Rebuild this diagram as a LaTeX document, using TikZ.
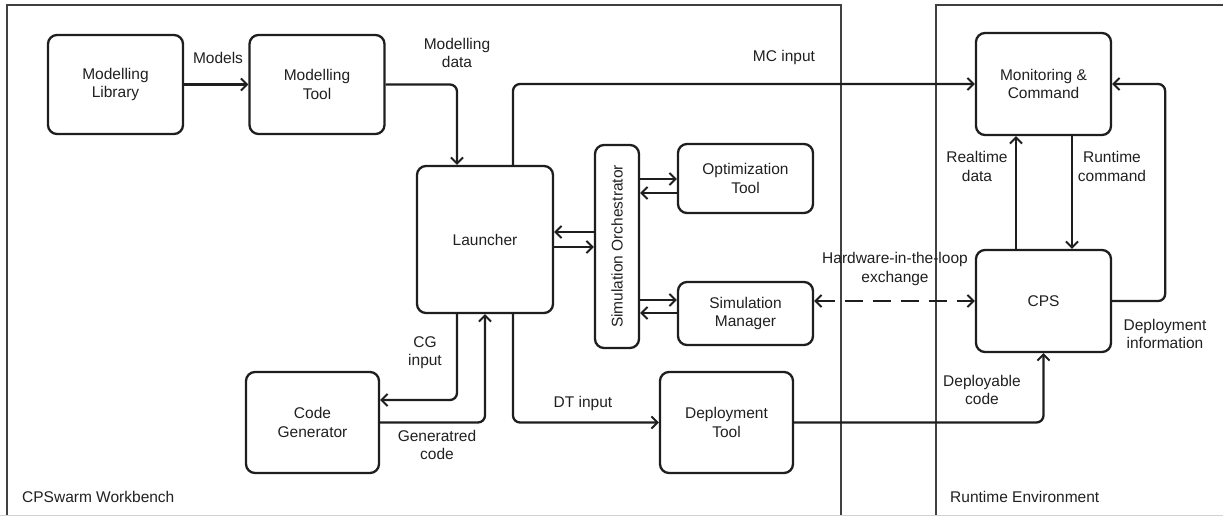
\documentclass[tikz,border=0pt]{standalone}
\usepackage{fontspec}
\setmainfont{Liberation Sans}
\usepackage{graphicx}
\usetikzlibrary{arrows.meta}
\definecolor{linec}{HTML}{1E1E1E}
\definecolor{framec}{HTML}{404040}
\definecolor{textc}{HTML}{202020}
\newcommand{\lblfont}{\fontsize{15.5}{18.5}\selectfont}
\begin{document}
\begin{tikzpicture}[x=1pt,y=-1pt,
 box/.style={draw=linec, line width=2.3pt, rounded corners=9pt, align=center, font=\lblfont, text=textc, inner sep=0pt},
 conn/.style={line width=2.3pt, draw=linec, rounded corners=7pt, -{Straight Barb[length=6pt,width=12pt,line width=2pt]}},
 lab/.style={font=\lblfont, text=textc, align=center, inner sep=0pt},
 frame/.style={draw=framec, line width=2.2pt}]
\useasboundingbox (0,0) rectangle (1223,516);
\clip (0,0) rectangle (1223,516);
% frames
\draw[frame] (7,530) -- (7,5) -- (841,5) -- (841,530);
\draw[frame] (936,530) -- (936,5) -- (1240,5);
\draw[gray!35, line width=1.5pt] (0,515.5) -- (1223,515.5);
\node[lab, anchor=west] (wb) at (22,497) {CPSwarm Workbench};
\node[lab, anchor=west] (re) at (950,497) {Runtime Environment};
% boxes
\node[box, minimum width=135pt, minimum height=99pt] (ml) at (115.5,84.5) {Modelling\\Library};
\node[box, minimum width=135pt, minimum height=99pt] (mt) at (317,84.5) {Modelling\\Tool};
\node[box, minimum width=136pt, minimum height=147pt] (la) at (485,239.5) {Launcher};
\node[box, minimum width=44pt, minimum height=203pt] (so) at (617,246.5) {\rotatebox{90}{Simulation Orchestrator}};
\node[box, minimum width=135pt, minimum height=69pt] (ot) at (745.5,178.5) {Optimization\\Tool};
\node[box, minimum width=135pt, minimum height=63pt] (sm) at (745.5,313.5) {Simulation\\Manager};
\node[box, minimum width=133pt, minimum height=101pt] (cg) at (312.5,422.5) {Code\\Generator};
\node[box, minimum width=133pt, minimum height=101pt] (dt) at (726.5,422.5) {Deployment\\Tool};
\node[box, minimum width=135pt, minimum height=102pt] (mc) at (1043.5,84) {Monitoring \&\\Command};
\node[box, minimum width=135pt, minimum height=102pt] (cps) at (1043.5,301) {CPS};
% connectors
\draw[conn] (ml) -- (mt);
\draw[conn] (mt.east) -| ([xshift=-28pt]la.north);
\draw[conn] ([xshift=28pt]la.north) |- (mc.west);
\draw[conn] (so.west |- 0,232) -- (la.east |- 0,232);
\draw[conn] (la.east |- 0,247) -- (so.west |- 0,247);
\draw[conn] (so.east |- 0,179) -- (ot.west |- 0,179);
\draw[conn] (ot.west |- 0,193) -- (so.east |- 0,193);
\draw[conn] (so.east |- 0,300) -- (sm.west |- 0,300);
\draw[conn] (sm.west |- 0,313) -- (so.east |- 0,313);
\draw[conn] ([xshift=-28pt]la.south) |- (cg.east |- 0,400);
\draw[conn] (cg.east) -| (la.south);
\draw[conn] ([xshift=28pt]la.south) |- (dt.west);
\draw[conn] (dt.east) -| (cps.south);
\draw[conn] ([xshift=-27.5pt]cps.north) -- ([xshift=-27.5pt]mc.south);
\draw[conn] ([xshift=28.5pt]mc.south) -- ([xshift=28.5pt]cps.north);
\draw[conn] (cps.east) -- ++(53,0) |- (mc.east);
\draw[conn, {Straight Barb[length=6pt,width=12pt,line width=2pt]}-{Straight Barb[length=6pt,width=12pt,line width=2pt]}, dash pattern=on 18pt off 10pt] (sm.east |- cps.west) -- (cps.west);
% labels
\node[lab] (l1) at (218,58) {Models};
\node[lab] (l2) at (457,53) {Modelling\\data};
\node[lab] (l3) at (784,57) {MC input};
\node[lab] (l4) at (977,166.5) {Realtime\\data};
\node[lab] (l5) at (1112,166.5) {Runtime\\command};
\node[lab] (l6) at (1165,334) {Deployment\\information};
\node[lab] (l7) at (895,269) {Hardware-in-the-loop\\exchange};
\node[lab] (l8) at (982,390) {Deployable\\code};
\node[lab] (l9) at (425,352.5) {CG\\input};
\node[lab] (l10) at (437,445) {Generatred\\code};
\node[lab] (l11) at (583,403) {DT input};
\end{tikzpicture}
\end{document}
